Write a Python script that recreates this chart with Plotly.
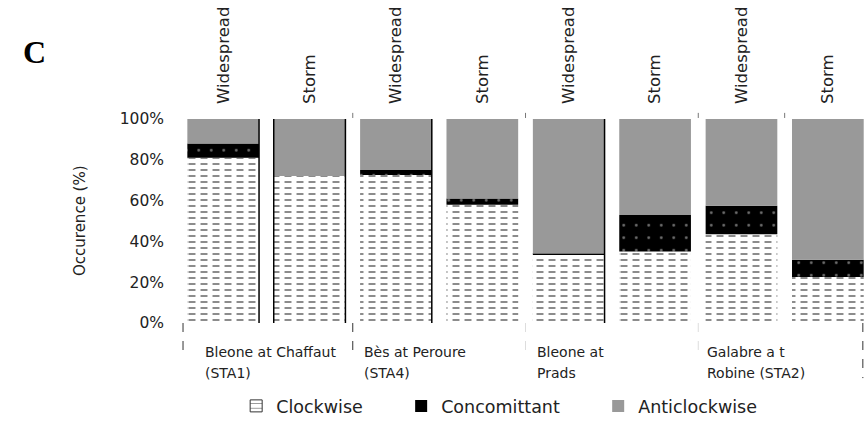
import plotly.graph_objects as go

# Sites (two-line labels under each pair of bars) and event types (top labels)
site_line1 = ["Bleone at Chaffaut", "Bès at Peroure", "Bleone at", "Galabre a t"]
site_line2 = ["(STA1)", "(STA4)", "Prads", "Robine (STA2)"]
event_types = ["Widespread", "Storm"]

# Occurrence (%) of each rotation type, one value per bar (site x event type)
clockwise = [81, 72, 72.5, 58, 33.5, 35, 43.5, 22.5]
concomittant = [7, 0, 2.5, 3, 0.5, 18, 14, 8.5]
anticlockwise = [12, 28, 25, 39, 66, 47, 42.5, 69]

y_ticks = [0, 20, 40, 60, 80, 100]
y_ticktext = [f"{v}%" for v in y_ticks]

# bars that show a dark outline on one side
edge_right = [True, True, True, False, True, False, False, False]
edge_left = [False, True, False, False, False, False, False, False]

n_bars = len(clockwise)
xpos = list(range(n_bars))
top_labels = [event_types[i % len(event_types)] for i in xpos]
base_conc = list(clockwise)
base_anti = [c + k for c, k in zip(clockwise, concomittant)]

BAR_W = 0.83
TXT = "#222222"
FONT = "DejaVu Sans"
NB = "\u00a0"

fig = go.Figure()

# clockwise: white with horizontal dash rows
fig.add_trace(go.Bar(
    x=xpos, y=clockwise, base=[0] * n_bars, width=BAR_W, showlegend=False,
    marker=dict(color="white", line=dict(width=0),
                pattern=dict(shape="-", fgcolor="#000000", bgcolor="white",
                             size=6, solidity=0.3)),
))
# white vertical gaps break the rows into dashes
fig.add_trace(go.Bar(
    x=xpos, y=clockwise, base=[0] * n_bars, width=BAR_W, showlegend=False,
    hoverinfo="skip",
    marker=dict(color="rgba(0,0,0,0)", line=dict(width=0),
                pattern=dict(shape="|", fillmode="overlay", fgcolor="white",
                             fgopacity=1, size=12, solidity=0.42)),
))
# concomittant: black with small light dots
fig.add_trace(go.Bar(
    x=xpos, y=concomittant, base=base_conc, width=BAR_W, showlegend=False,
    marker=dict(color="black", line=dict(width=0),
                pattern=dict(shape=".", fgcolor="#dddddd", bgcolor="black",
                             size=12.5, solidity=0.04)),
))
# anticlockwise: flat grey
fig.add_trace(go.Bar(
    x=xpos, y=anticlockwise, base=base_anti, width=BAR_W, showlegend=False,
    marker=dict(color="#999999", line=dict(width=0)),
))

# legend entries
fig.add_trace(go.Bar(x=[None], y=[None], name="Clockwise" + NB * 6,
                     marker=dict(color="white", line=dict(color="#333333", width=1),
                                 pattern=dict(shape="-", fgcolor="#333333", bgcolor="white",
                                              size=6, solidity=0.2))))
fig.add_trace(go.Bar(x=[None], y=[None], name="Concomittant" + NB * 6,
                     marker=dict(color="black", line=dict(width=0))))
fig.add_trace(go.Bar(x=[None], y=[None], name="Anticlockwise",
                     marker=dict(color="#999999", line=dict(width=0))))

shapes = []
# dark outlines on some bar sides
for i in xpos:
    if edge_right[i]:
        shapes.append(dict(type="line", xref="x", yref="y", x0=i + BAR_W / 2, x1=i + BAR_W / 2,
                           y0=0, y1=100, line=dict(color="black", width=1.5)))
    if edge_left[i]:
        shapes.append(dict(type="line", xref="x", yref="y", x0=i - BAR_W / 2, x1=i - BAR_W / 2,
                           y0=0, y1=100, line=dict(color="black", width=1.5)))

# dashed separators below the plot between site groups
n_sites = len(site_line1)
sep = [(-0.465, "#333333", -0.16)]
for g in range(1, n_sites):
    sep.append((2 * g - 0.5, "#333333" if g == 1 else "#dddddd", -0.16))
sep.append((7.405, "#333333", -0.27))
for x, col, y0 in sep:
    shapes.append(dict(type="line", xref="x", yref="paper", x0=x, x1=x, y0=0, y1=y0,
                       line=dict(color=col, width=1, dash="dash")))
# short marks above the plot
for x in [1.5, 3.5, 5.5, 6.5]:
    shapes.append(dict(type="line", xref="x", yref="paper", x0=x, x1=x, y0=1.005, y1=1.03,
                       line=dict(color="#777777", width=1)))

annotations = []
shifts = [23, 9, 9, 7]
for g in range(n_sites):
    for txt, yy in [(site_line1[g], -0.14), (site_line2[g], -0.244)]:
        annotations.append(dict(text=txt, xref="x", yref="paper", x=2 * g - 0.5, xshift=shifts[g],
                                y=yy, xanchor="left", yanchor="middle", showarrow=False,
                                font=dict(family=FONT, size=14, color=TXT)))
annotations.append(dict(text="<b>C</b>", xref="paper", yref="paper", x=-0.2117, y=1.33,
                        xanchor="center", yanchor="middle", showarrow=False,
                        font=dict(family="Liberation Serif", size=32, color="black")))
annotations.append(dict(text="Occurence (%)", xref="paper", yref="paper", x=(80 - 180) / 685,
                        y=0.5, textangle=-90, xanchor="center", yanchor="middle",
                        showarrow=False, font=dict(family=FONT, size=15, color=TXT)))

fig.update_layout(
    width=865, height=424,
    margin=dict(l=180, r=0, t=119, b=87),
    paper_bgcolor="white", plot_bgcolor="white",
    barmode="overlay",
    xaxis=dict(range=[-0.5, 7.43], side="top", tickmode="array", tickvals=xpos,
               ticktext=top_labels, tickangle=-90, ticklabelstandoff=14,
               tickfont=dict(family=FONT, size=16.5, color=TXT),
               showgrid=False, zeroline=False, showline=False, ticks=""),
    yaxis=dict(range=[0, 100], tickmode="array", tickvals=y_ticks, ticktext=y_ticktext,
               tickfont=dict(family=FONT, size=15.5, color=TXT), ticklabelstandoff=15,
               showgrid=False, zeroline=False, showline=False, ticks=""),
    legend=dict(orientation="h", x=0.082, y=-0.41, xanchor="left", yanchor="middle",
                font=dict(family=FONT, size=17.5, color=TXT), itemwidth=30,
                bgcolor="rgba(0,0,0,0)"),
    shapes=shapes,
    annotations=annotations,
    showlegend=True,
)

fig.write_html("out.html")
